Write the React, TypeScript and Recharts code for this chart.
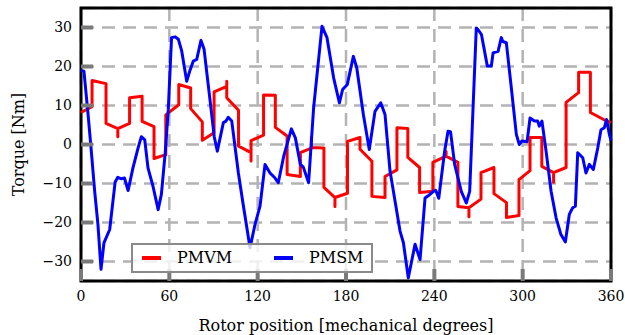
import React from "react";
import {
  CartesianGrid, Legend, Line, LineChart, ReferenceArea, XAxis, YAxis,
} from "recharts";

// rotor position [deg], torque [Nm]
const PMVM: [number, number][] = [
  [0, 8.2], [7.5, 9.7], [7.5, 16.4], [17, 15.6], [17, 5.4], [25, 4.1], [25, 2], [25, 4.1],
  [33, 5.4], [33, 12], [41.5, 12.4], [41.5, 5.9], [49.6, 4.6], [49.6, -3.6], [57.6, -2.6],
  [57.6, 7.6], [66.4, 10.2], [66.4, 15.4], [74.5, 14.5], [74.5, 9.2], [82.4, 5.8], [82.4, 1.1],
  [90.4, 3], [90.4, 13.5], [99, 14.9], [99, 16.2], [99, 12], [107, 8.8], [107, -0.4],
  [115.5, -2.1], [115.5, -4.2], [115.5, 1], [124, 2.4], [124, 12.7], [132, 12.6], [132, 4.4],
  [140, 2.2], [140, -7.7], [149, -8.2], [149, -2.1], [156.5, -0.9], [156.5, 1.8], [156.5, -0.8],
  [165, -0.9], [165, -11], [172.5, -13.6], [172.5, -15.9], [172.5, -13.6], [181, -12.5],
  [181, 0.8], [189.5, 1.8], [189.5, -1.2], [197.6, -4.3], [197.6, -13.3], [206.5, -13.6],
  [206.5, -8.2], [214.6, -6.5], [214.6, 4.3], [222, 4.1], [222, -3.3], [230, -5.9], [230, -12.3],
  [239, -12], [239, -4.6], [248, -3], [248, -1.8], [248, -3], [256, -4.6], [256, -15.9],
  [263.5, -16.2], [263.5, -18.5], [263.5, -16.2], [271.7, -14], [271.7, -7.2], [280.5, -5.9],
  [280.5, -12.6], [289, -14.9], [289, -18.7], [297.5, -18.2], [297.5, -9], [305, -6.7],
  [305, 1.8], [313, 1.8], [313, -5.6], [321, -7.2], [321, -9.7], [321, -7.2], [329.5, -5.9],
  [329.5, 10.8], [338, 13.3], [338, 18.5], [346, 18.5], [346, 8.2], [355, 6.4], [360, 5.6],
];

const PMSM: [number, number][] = [
  [0, 19], [2, 18.8], [4.8, 7.7], [7, -1.7], [9.3, -12], [11.5, -20.5], [13.6, -32],
  [15.6, -25.2], [19.5, -21.8], [21.7, -14.5], [23.2, -9.6], [25, -8.4], [27.5, -8.8],
  [29.5, -8.6], [32, -11.8], [35.3, -6], [38.7, -1], [41, 2], [43.3, 1.2], [45.5, -6],
  [48.9, -10.7], [52.4, -16.7], [54.6, -12.8], [57.3, -1.7], [59.3, 9], [61.5, 27.4],
  [64, 27.6], [66.1, 27], [68.4, 24], [71.8, 16.2], [74, 19], [76.3, 21.4], [78.6, 21.8],
  [81.5, 26.7], [83.6, 24.4], [87.6, 11.5], [90.5, 2], [92.6, -1.7], [96.7, 5.6], [98.5, 6],
  [100, 7], [102.4, 6], [106.9, -7.3], [110, -15], [114.8, -26.5], [118.2, -20.5],
  [121.6, -15.8], [125, -5.1], [128.4, -7.3], [131.8, -8.6], [134, -9.8], [137.7, -3],
  [142.9, 4], [145.6, 1.7], [149, -5.1], [151, -5.8], [154.6, -9.8], [158, 9.4], [163.7, 30.3],
  [167.1, 27.4], [171.6, 17.1], [175.5, 10.7], [177.7, 14.1], [180.9, 15.4], [185, 22.6],
  [187.3, 19.7], [191.8, 7.7], [195.8, -1.3], [199.7, 8.5], [203.6, 10.7], [206.5, 7.7],
  [209.9, -6.8], [216.7, -22.2], [219, -25.2], [222.3, -34.2], [226.9, -25.6], [230.3, -29.5],
  [233.7, -13.7], [237, -12.8], [239.3, -12], [241, -11.8], [243, -13.8], [247, -1.7],
  [249.3, 3.4], [251, 3.3], [253.8, -5.1], [258.3, -12], [261.7, -15], [264, -12],
  [268.5, 29.9], [270, 29.3], [272, 28.2], [276, 20.1], [278.7, 20.1], [279.9, 23.5],
  [283.3, 23.9], [285.5, 27.4], [286.5, 26.4], [288.9, 26.1], [292.3, 14.5], [295.7, 2.6],
  [297.7, 0], [299.5, 0.9], [303, 0.7], [305, 6.8], [308, 6], [310.2, 6], [311.3, 4.7],
  [313.1, 6], [315.9, -1.7], [319.3, -12], [322.7, -18.8], [326, -23.1], [329, -25],
  [331.7, -17.9], [334, -16.2], [335.8, -15.8], [337.4, -2.1], [340.8, -3.4], [343, -7.3],
  [345.3, -5.1], [348, -6.4], [351, -0.9], [353.2, 3.8], [355.5, 4.3], [357, 6.4],
  [358.9, 2.6], [360, 1],
];

const SERIES = ["PMVM", "PMSM"];
const X_TICKS = [0, 60, 120, 180, 240, 300, 360];
const Y_TICKS = [-30, -20, -10, 0, 10, 20, 30];
const X_TITLE = "Rotor position [mechanical degrees]";
const Y_TITLE = "Torque [Nm]";

const FONT = "'DejaVu Serif', serif";
const toRows = (pts: [number, number][]) => pts.map(([x, y]) => ({ x, y }));

function XTitle({ viewBox }: any) {
  const { x, y, width } = viewBox;
  return (
    <text x={x + width / 2} y={y + 44} textAnchor="middle" dominantBaseline="central"
      fontFamily={FONT} fontSize={16} fill="#000">
      {X_TITLE}
    </text>
  );
}

function YTitle({ viewBox }: any) {
  const { y, height } = viewBox;
  const cy = y + height / 2;
  return (
    <text x={18} y={cy} transform={`rotate(-90 18 ${cy})`} textAnchor="middle"
      dominantBaseline="central" fontFamily={FONT} fontSize={16} fill="#000">
      {Y_TITLE}
    </text>
  );
}

function LegendBox({ payload }: any) {
  const items = [...(payload ?? [])].sort(
    (a: any, b: any) => SERIES.indexOf(a.value) - SERIES.indexOf(b.value),
  );
  return (
    <div style={{
      boxSizing: "border-box", width: 242, height: 30, border: "2px solid #8a8a8a",
      background: "rgba(255,255,255,0.8)", position: "relative", fontFamily: FONT, fontSize: 16,
    }}>
      {items.map((p: any, i: number) => (
        <React.Fragment key={p.value}>
          <span style={{
            position: "absolute", left: 9 + i * 132, top: 11, width: 19, height: 4, background: p.color,
          }} />
          <span style={{
            position: "absolute", left: 44 + i * 132, top: 2, lineHeight: "22px", color: "#000",
          }}>{p.value}</span>
        </React.Fragment>
      ))}
    </div>
  );
}

export default function App() {
  return (
    <div style={{ position: "absolute", left: 0, top: 0, background: "#fff" }}>
      <LineChart width={625} height={335} margin={{ top: 8, right: 14, bottom: 0, left: 21 }}>
        <CartesianGrid stroke="#b3b3b3" strokeWidth={2.5} strokeDasharray="13 8" />
        <XAxis
          dataKey="x"
          type="number"
          domain={[0, 360]}
          ticks={X_TICKS}
          interval={0}
          height={54}
          axisLine={false}
          tickSize={-12}
          tickMargin={22}
          tickLine={{ stroke: "#7a7a7a", strokeWidth: 4 }}
          tick={{ fontFamily: FONT, fontSize: 14, fill: "#000" }}
          label={<XTitle />}
        />
        <YAxis
          type="number"
          domain={[-35, 35]}
          ticks={Y_TICKS}
          interval={0}
          width={60}
          axisLine={false}
          tickSize={-12}
          tickMargin={21}
          tickLine={{ stroke: "#7a7a7a", strokeWidth: 4 }}
          tick={{ fontFamily: FONT, fontSize: 14, fill: "#000" }}
          tickFormatter={(v: number) => String(v).replace("-", "\u2212")}
          label={<YTitle />}
        />
        <Line data={toRows(PMVM)} dataKey="y" name="PMVM" type="linear" stroke="#ff0000"
          strokeWidth={3} dot={false} isAnimationActive={false} strokeLinejoin="round" />
        <Line data={toRows(PMSM)} dataKey="y" name="PMSM" type="linear" stroke="#0000ff"
          strokeWidth={3} dot={false} isAnimationActive={false} strokeLinejoin="round" />
        <ReferenceArea x1={0} x2={360} y1={-35} y2={35} fill="none" fillOpacity={0}
          stroke="#000" strokeWidth={3} ifOverflow="visible" />
        <Legend
          layout="horizontal"
          verticalAlign="middle"
          align="center"
          content={<LegendBox />}
          wrapperStyle={{ left: 131, top: 243, width: 242, height: 30 }}
        />
      </LineChart>
    </div>
  );
}
